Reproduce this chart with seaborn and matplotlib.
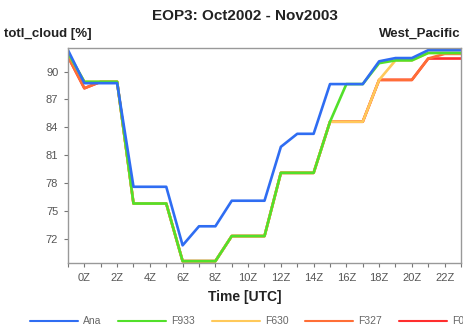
import matplotlib
matplotlib.use("Agg")
import matplotlib.pyplot as plt
import seaborn as sns
import pandas as pd

# Hourly total cloud cover, West Pacific, EOP3 (Oct2002 - Nov2003)
hours = list(range(-1, 24))
ana = [92.3, 88.75, 88.75, 88.75, 77.6, 77.6, 77.6, 71.3, 73.35, 73.35, 76.1, 76.1, 76.1,
       81.9, 83.3, 83.3, 88.65, 88.65, 88.65, 91.1, 91.45, 91.45, 92.3, 92.3, 92.3]
f933 = [92.0, 88.9, 88.9, 88.9, 75.8, 75.8, 75.8, 69.6, 69.6, 69.6, 72.3, 72.3, 72.3,
        79.1, 79.1, 79.1, 84.6, 88.65, 88.65, 90.9, 91.2, 91.2, 92.0, 92.0, 92.0]
f630 = [92.0, 88.9, 88.9, 88.9, 75.8, 75.8, 75.8, 69.6, 69.6, 69.6, 72.3, 72.3, 72.3,
        79.1, 79.1, 79.1, 84.6, 84.6, 84.6, 89.1, 91.2, 91.2, 92.0, 92.0, 92.0]
f327 = [91.6, 88.2, 88.9, 88.9, 75.8, 75.8, 75.8, 69.6, 69.6, 69.6, 72.3, 72.3, 72.3,
        79.1, 79.1, 79.1, 84.6, 84.6, 84.6, 89.1, 89.1, 89.1, 91.4, 91.9, 91.9]
f024 = [91.6, 88.2, 88.9, 88.9, 75.8, 75.8, 75.8, 69.6, 69.6, 69.6, 72.3, 72.3, 72.3,
        79.1, 79.1, 79.1, 84.6, 84.6, 84.6, 89.1, 89.1, 89.1, 91.4, 91.4, 91.4]

series_names = ["Ana", "F933", "F630", "F327", "F024"]
series_values = [ana, f933, f630, f327, f024]
series_colors = ["#2f6df2", "#52e02a", "#ffc95a", "#ff6e36", "#ff2e2e"]

y_ticks = [72, 75, 78, 81, 84, 87, 90]
x_ticks = list(range(0, 24, 2))
x_tick_labels = [f"{h}Z" for h in x_ticks]

sns.set_style("white")
plt.rcParams["font.family"] = ["Liberation Sans", "DejaVu Sans"]

fig = plt.figure(figsize=(4.64, 3.28), dpi=100)
ax = fig.add_axes([68 / 464, 1 - 263 / 328, (461 - 68) / 464, (263 - 48.3) / 328])

# Draw in reverse so the analysis ends up on top
for name, vals, col in reversed(list(zip(series_names, series_values, series_colors))):
    df = pd.DataFrame({"hour": hours, "value": vals})
    sns.lineplot(data=df, x="hour", y="value", color=col, linewidth=1.9,
                 label=name, ax=ax, legend=False)

ax.set_xlim(-1, 23)
ax.set_ylim(69.4, 92.5)
ax.set_xticks(x_ticks)
ax.set_xticklabels(x_tick_labels)
ax.set_xticks(range(-1, 24), minor=True)
ax.set_yticks(y_ticks)
ax.tick_params(axis="both", which="both", direction="out", length=3, width=0.8,
               color="#777777", labelsize=8, labelcolor="#555555", pad=4,
               bottom=True, left=True)
ax.set_xlabel("")
ax.set_ylabel("")
for sp in ax.spines.values():
    sp.set_color("#999999")
    sp.set_linewidth(1.0)

fig.text(245 / 464, 1 - 16 / 328, "EOP3: Oct2002 - Nov2003", ha="center", va="center",
         fontsize=11, fontweight="bold", color="#222222")
fig.text(4 / 464, 1 - 34 / 328, "totl_cloud [%]", ha="left", va="center",
         fontsize=9.5, fontweight="bold", color="#222222")
fig.text(461 / 464, 1 - 34 / 328, "West_Pacific", ha="right", va="center",
         fontsize=9.5, fontweight="bold", color="#222222")
fig.text(245 / 464, 1 - 297 / 328, "Time [UTC]", ha="center", va="center",
         fontsize=10, fontweight="bold", color="#222222")

handles = []
for name, col in zip(series_names, series_colors):
    h, = ax.plot([], [], color=col, linewidth=1.5)
    handles.append(h)
leg = fig.legend(handles, series_names, loc="center left",
                 bbox_to_anchor=(30 / 464, 1 - 321.5 / 328), ncol=5, frameon=False,
                 fontsize=7.5, handlelength=4.6, handletextpad=0.5, columnspacing=1.6,
                 borderpad=0, borderaxespad=0)
for t in leg.get_texts():
    t.set_color("#666666")

fig.savefig("out.png", dpi=100)
